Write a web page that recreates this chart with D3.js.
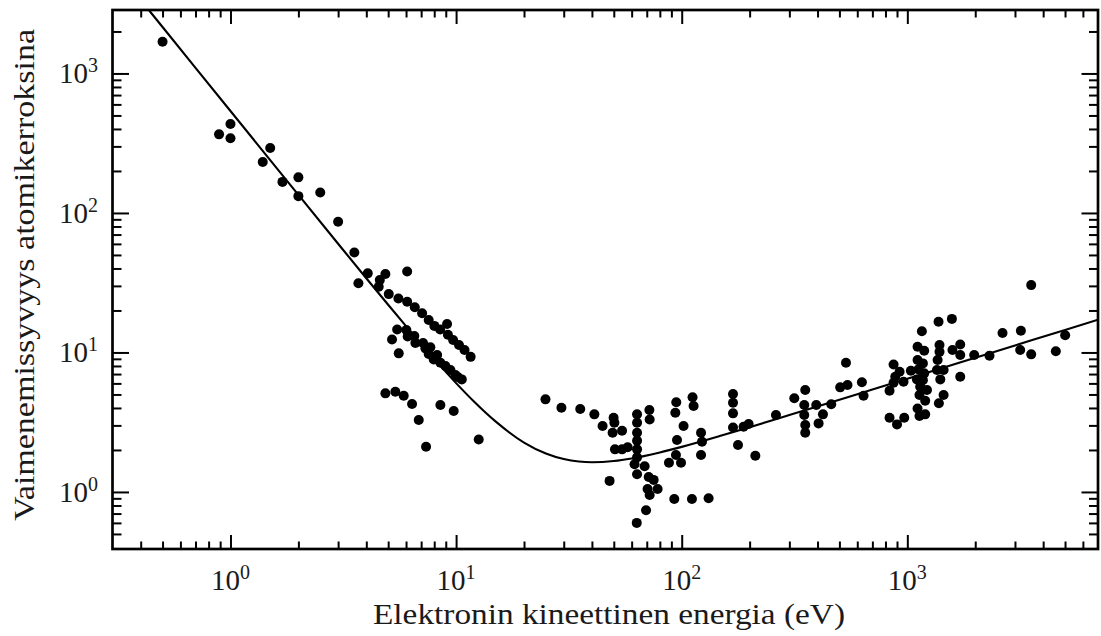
<!DOCTYPE html>
<html><head><meta charset="utf-8">
<script src="https://cdn.jsdelivr.net/npm/d3@7"></script>
<style>
body{margin:0;background:#fff}
svg{display:block}
text{font-family:"Liberation Serif","Times New Roman",serif;fill:#1a1a1a}
</style>
</head><body>
<svg id="chart" width="1101" height="636"></svg>
<script>
// ---- data (electron energy in eV, attenuation depth in monolayers) ----
const lowEnergyPoints = [
  [0.5,1690],[0.89,366],[1.0,434],[1.0,343],[1.39,232],[1.5,292],[1.7,167],
  [2.0,180],[2.0,132],[2.5,140],[3.0,86.5]
];
const alkaliPoints = [
  [3.54,52],[3.69,31.3],[4.06,36.9],[4.54,29.6],[4.59,33],[4.86,36.5],[5.03,26.2],[6.07,38],
  [5.55,24.4],[6.07,23.1],[6.56,21.1],[7.07,19.1],[7.56,17.1],[8.01,15.5],[8.5,14.6],
  [9.12,16.0],[9.2,13.4],[9.7,12.3],[10.3,11.3],[10.9,10.4],[11.6,9.3],
  [5.48,14.6],[5.20,12.4],[5.57,9.85],[6.02,14.5],[6.10,13.0],[6.53,13.1],[6.60,11.7],
  [7.14,11.7],[7.31,10.7],[7.69,10.9],[7.56,9.74],[8.24,9.58],[7.96,8.92],[8.52,8.44],
  [8.97,7.99],[9.44,7.48],[9.93,6.89],[10.2,6.64],[10.6,6.41],
  [4.86,5.09],[5.38,5.23],[5.86,4.89],[6.38,4.27],[6.83,3.28],[7.36,2.11],[8.52,4.20],
  [9.76,3.80],[12.6,2.38]
];
const midEnergyPoints = [
  [24.9,4.61],[29.3,4.01],[35.5,3.93],[41.0,3.60],[44.6,2.97],[49.9,3.40],[50.3,3.13],
  [49.4,2.66],[54.4,2.75],[50.6,2.02],[54.4,2.02],[57.6,2.09],[47.9,1.20],
  [63.4,3.60],[63.4,3.13],[63.4,2.66],[63.4,2.33],[63.4,2.02],[63.4,1.77],[61.8,1.58],
  [63.4,1.34],[63.2,0.60],[69.5,0.74],[68.5,1.53],[71.4,1.28],[75.1,1.22],[70.6,1.05],
  [78.2,1.05],[72.1,0.95],[71.9,3.87],[72.1,3.31],
  [87.8,1.62],[94.6,4.39],[93.7,3.70],[95.3,2.36],[94.3,1.84],[99.3,1.62],[101.9,2.97],
  [92.7,0.89],[111,0.89],[131.6,0.90],[111.7,4.77],[112.9,4.13],[121.8,2.66],[123,2.29],
  [121.8,1.84],[168.8,5.03],[168.8,4.36],[168.8,3.66],[168.8,2.90],[177.6,2.17],
  [188,2.93],[198,3.07]
];
const highEnergyPoints = [
  [212,1.82],[261.7,3.56],[315.5,4.69],[352.8,5.38],[349.3,4.20],[349.3,3.56],[352.8,3.02],
  [352.8,2.66],[394.8,4.20],[422.7,3.60],[404.3,3.10],[460,4.25],[504,5.62],[543,5.84],
  [534.6,8.44],[629,6.11],[639.8,4.89],
  [834,5.31],[869,8.2],[884,6.7],[924,7.27],[869,6.07],[962,6.17],[1037,7.39],[834,3.40],
  [900,3.05],[969,3.40],
  [1110,11.0],[1160,14.2],[1188,10.3],[1110,8.82],[1172,8.35],[1121,7.56],[1188,7.08],
  [1103,6.41],[1172,6.33],[1140,5.68],[1222,5.38],[1132,4.95],[1200,4.51],[1110,3.97],
  [1132,3.50],[1200,3.60],
  [1375,16.6],[1389,11.3],[1389,10.1],[1362,8.82],[1353,7.48],[1448,7.48],[1400,6.41],
  [1448,4.95],[1380,4.32],
  [1576,17.4],[1585,10.4],[1716,11.4],[1716,9.58],[1716,6.70],
  [1979,9.58],[2313,9.47],[2642,13.8],[3187,14.3],[3164,10.4],[3540,9.69],[3540,30.4],
  [4552,10.2],[5007,13.3]
];
// universal curve
const curveE = [0.3,0.4,0.5,0.7,1,1.5,2,3,4,5,6,7,8,10,12,15,20,25,30,35,40,50,60,80,100,150,200,300,500,700,1000,2000,3000,5000,7000];
const curveL = [5978,3363,2152,1098,538.2,239.4,134.8,60.13,34.03,21.98,15.45,11.52,8.99,6.03,4.45,3.19,2.26,1.886,1.721,1.652,1.633,1.665,1.737,1.918,2.104,2.535,2.912,3.557,4.584,5.424,6.483,9.168,11.228,14.496,17.152];

const xDomain = [0.3, 7000];
const yDomain = [0.39, 2850];
const xMajor = [1, 10, 100, 1000];
const yMajor = [1, 10, 100, 1000];
const xExponents = ["0","1","2","3"];
const yExponents = ["0","1","2","3"];
const xTitle = "Elektronin kineettinen energia (eV)";
const yTitle = "Vaimenemissyvyys atomikerroksina";

// ---- drawing ----
const svg = d3.select("#chart");
const L = 112.5, R = 1098, T = 10, B = 549;
const x = d3.scaleLog().domain(xDomain).range([L, R]);
const y = d3.scaleLog().domain(yDomain).range([B, T]);

function minorTicks(scale){
  const [a,b] = scale.domain();
  const out = [];
  for (let e = -2; e <= 5; e++) {
    for (let k = 2; k <= 9; k++) {
      const v = k * Math.pow(10, e);
      if (v > a && v < b) {
        const p = scale(v);
        const r = scale.range();
        if (Math.abs(p - r[0]) > 3 && Math.abs(p - r[1]) > 3) out.push(v);
      }
    }
  }
  return out;
}
const xMinor = minorTicks(x), yMinor = minorTicks(y);

svg.append("clipPath").attr("id","clip").append("rect")
  .attr("x",L).attr("y",T).attr("width",R-L).attr("height",B-T);

// curve
const line = d3.line().x((d,i)=>x(curveE[i])).y((d,i)=>y(curveL[i])).curve(d3.curveMonotoneX);
svg.append("path").datum(curveE).attr("d",line).attr("fill","none")
  .attr("stroke","#000").attr("stroke-width",2.1).attr("clip-path","url(#clip)");

// points
const allPoints = [].concat(lowEnergyPoints, alkaliPoints, midEnergyPoints, highEnergyPoints);
svg.append("g").selectAll("circle").data(allPoints).join("circle")
  .attr("cx",d=>x(d[0])).attr("cy",d=>y(d[1])).attr("r",5).attr("fill","#000")
  .attr("clip-path","url(#clip)");

// axes (ticks inward on all four sides)
function drawAxis(gen, scale, vals, size, tr){
  const g = svg.append("g").attr("transform",tr)
    .call(gen(scale).tickValues(vals).tickSize(-size).tickFormat(""));
  g.select(".domain").remove();
  g.selectAll(".tick line").attr("stroke","#000").attr("stroke-width",2);
}
drawAxis(d3.axisBottom, x, xMajor, 14, `translate(0,${B})`);
drawAxis(d3.axisBottom, x, xMinor, 7.5, `translate(0,${B})`);
drawAxis(d3.axisTop, x, xMajor, 14, `translate(0,${T})`);
drawAxis(d3.axisTop, x, xMinor, 7.5, `translate(0,${T})`);
drawAxis(d3.axisLeft, y, yMajor, 16.5, `translate(${L},0)`);
drawAxis(d3.axisLeft, y, yMinor, 9, `translate(${L},0)`);
drawAxis(d3.axisRight, y, yMajor, 16.5, `translate(${R},0)`);
drawAxis(d3.axisRight, y, yMinor, 9, `translate(${R},0)`);

svg.append("rect").attr("x",L).attr("y",T).attr("width",R-L).attr("height",B-T)
  .attr("fill","none").attr("stroke","#000").attr("stroke-width",2.7);

// tick labels
xMajor.forEach((v,i)=>{
  const t = svg.append("text").attr("x",x(v)).attr("y",590).attr("text-anchor","middle")
    .style("font-size","29px");
  t.append("tspan").text("10");
  t.append("tspan").attr("dy",-11).style("font-size","20px").text(xExponents[i]);
});
yMajor.forEach((v,i)=>{
  const t = svg.append("text").attr("x",98).attr("y",y(v)+10).attr("text-anchor","end")
    .style("font-size","29px");
  t.append("tspan").text("10");
  t.append("tspan").attr("dy",-11).style("font-size","20px").text(yExponents[i]);
});

// titles
svg.append("text").attr("x",609).attr("y",624).attr("text-anchor","middle")
  .attr("textLength",472).attr("lengthAdjust","spacingAndGlyphs")
  .style("font-size","29px").text(xTitle);
svg.append("text").attr("transform",`translate(34,275) rotate(-90)`)
  .attr("text-anchor","middle")
  .attr("textLength",492).attr("lengthAdjust","spacingAndGlyphs")
  .style("font-size","29px").text(yTitle);
</script>
</body></html>
